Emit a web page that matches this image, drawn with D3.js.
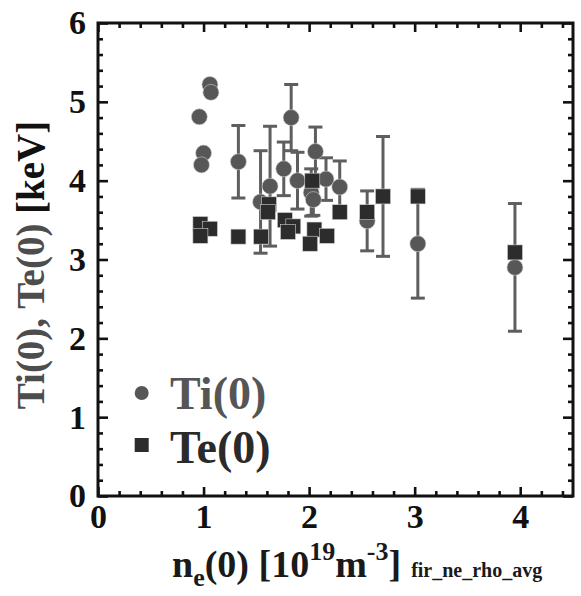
<!DOCTYPE html>
<html>
<head>
<meta charset="utf-8">
<script src="https://cdn.jsdelivr.net/npm/d3@7"></script>
<style>
body { margin: 0; background: #fff; }
text { font-family: "Liberation Serif", "Times New Roman", serif; font-weight: bold; }
</style>
</head>
<body>
<div id="visualization"></div>
<script>
// Ti(0) points: density, value, error (0 = no bar)
const tiNe  = [1.06, 1.07, 0.96, 1.00, 0.98, 1.33, 1.54, 1.63, 1.76, 1.83, 1.89, 2.02, 2.04, 2.06, 2.16, 2.29, 2.55, 3.03, 3.95];
const tiVal = [5.22, 5.12, 4.81, 4.35, 4.20, 4.24, 3.73, 3.93, 4.15, 4.80, 4.00, 3.85, 3.76, 4.37, 4.02, 3.92, 3.49, 3.20, 2.90];
const tiErr = [0,    0,    0,    0,    0,    0.46, 0.65, 0.76, 0.34, 0.42, 0.36, 0.30, 0.20, 0.31, 0.27, 0.33, 0.38, 0.69, 0.81];

// Te(0) points
const teNe  = [0.97, 1.06, 0.97, 1.33, 1.545, 1.62, 1.61, 1.77, 1.85, 1.80, 2.03, 2.05, 2.17, 2.01, 2.29, 2.55, 2.70, 3.03, 3.95];
const teVal = [3.45, 3.39, 3.30, 3.29, 3.29,  3.70, 3.60, 3.50, 3.42, 3.35, 4.00, 3.38, 3.30, 3.20, 3.60, 3.60, 3.80, 3.80, 3.09];
const teErr = [0,    0,    0,    0,    0,     0,    0,    0,    0,    0,    0,    0,    0,    0,    0,    0,    0.76, 0,    0];

const xTicks = [0, 1, 2, 3, 4];
const yTicks = [0, 1, 2, 3, 4, 5, 6];
const legendLabels = ["Ti(0)", "Te(0)"];

const margin = { top: 23, right: 8, bottom: 100, left: 98 };
const width = 581 - margin.left - margin.right;
const height = 596 - margin.top - margin.bottom;

const svg = d3.select("#visualization")
    .append("svg")
    .attr("width", width + margin.left + margin.right)
    .attr("height", height + margin.top + margin.bottom)
    .append("g")
    .attr("transform", `translate(${margin.left},${margin.top})`);

const x = d3.scaleLinear().domain([0, 4.5]).range([0, width]);
const y = d3.scaleLinear().domain([0, 6]).range([height, 0]);

const xMinor = d3.range(0.2, 4.5, 0.2).filter(v => Math.abs(v - Math.round(v)) > 0.01);
const yMinor = d3.range(0.2, 6, 0.2).filter(v => Math.abs(v - Math.round(v)) > 0.01);

function styleAxis(g) {
    g.select(".domain").remove();
    g.selectAll(".tick line").attr("stroke", "#111").attr("stroke-width", 2.6);
    g.selectAll(".tick text")
        .attr("fill", "#111")
        .style("font-size", "34px");
}

// major ticks with labels
svg.append("g").attr("transform", `translate(0,${height})`)
    .call(d3.axisBottom(x).tickValues(xTicks).tickSizeInner(-9).tickSizeOuter(0).tickPadding(8).tickFormat(d3.format("d")))
    .call(styleAxis);
svg.append("g")
    .call(d3.axisLeft(y).tickValues(yTicks).tickSizeInner(-10).tickSizeOuter(0).tickPadding(12).tickFormat(d3.format("d")))
    .call(styleAxis);

// mirrored ticks on top and right
svg.append("g")
    .call(d3.axisTop(x).tickValues(xTicks).tickSizeInner(-9).tickSizeOuter(0).tickFormat(""))
    .call(styleAxis);
svg.append("g").attr("transform", `translate(${width},0)`)
    .call(d3.axisRight(y).tickValues(yTicks).tickSizeInner(-10).tickSizeOuter(0).tickFormat(""))
    .call(styleAxis);

// minor ticks
svg.append("g").attr("transform", `translate(0,${height})`)
    .call(d3.axisBottom(x).tickValues(xMinor).tickSizeInner(-5).tickSizeOuter(0).tickFormat(""))
    .call(styleAxis);
svg.append("g")
    .call(d3.axisTop(x).tickValues(xMinor).tickSizeInner(-5).tickSizeOuter(0).tickFormat(""))
    .call(styleAxis);
svg.append("g")
    .call(d3.axisLeft(y).tickValues(yMinor).tickSizeInner(-5).tickSizeOuter(0).tickFormat(""))
    .call(styleAxis);
svg.append("g").attr("transform", `translate(${width},0)`)
    .call(d3.axisRight(y).tickValues(yMinor).tickSizeInner(-5).tickSizeOuter(0).tickFormat(""))
    .call(styleAxis);

// frame
svg.append("rect")
    .attr("width", width)
    .attr("height", height)
    .attr("fill", "none")
    .attr("stroke", "#111")
    .attr("stroke-width", 3);

const tiData = tiNe.map((d, i) => ({ ne: d, val: tiVal[i], err: tiErr[i] }));
const teData = teNe.map((d, i) => ({ ne: d, val: teVal[i], err: teErr[i] }));
const barColor = "#5e5e5e";
const capHalf = 7;

// error bars
const bars = svg.selectAll(".err")
    .data(tiData.concat(teData).filter(d => d.err > 0))
    .enter().append("g").attr("class", "err");
bars.append("line")
    .attr("x1", d => x(d.ne)).attr("x2", d => x(d.ne))
    .attr("y1", d => y(d.val + d.err)).attr("y2", d => y(d.val - d.err))
    .attr("stroke", barColor).attr("stroke-width", 3);
bars.append("line")
    .attr("x1", d => x(d.ne) - capHalf).attr("x2", d => x(d.ne) + capHalf)
    .attr("y1", d => y(d.val + d.err)).attr("y2", d => y(d.val + d.err))
    .attr("stroke", barColor).attr("stroke-width", 3);
bars.append("line")
    .attr("x1", d => x(d.ne) - capHalf).attr("x2", d => x(d.ne) + capHalf)
    .attr("y1", d => y(d.val - d.err)).attr("y2", d => y(d.val - d.err))
    .attr("stroke", barColor).attr("stroke-width", 3);

// Ti circles
svg.selectAll(".ti").data(tiData).enter()
    .append("circle")
    .attr("class", "ti")
    .attr("cx", d => x(d.ne))
    .attr("cy", d => y(d.val))
    .attr("r", 8)
    .attr("fill", "#575757")
    .attr("stroke", "#cfcfcf")
    .attr("stroke-width", 0.6);

// Te squares
svg.selectAll(".te").data(teData).enter()
    .append("rect")
    .attr("class", "te")
    .attr("x", d => x(d.ne) - 7.5)
    .attr("y", d => y(d.val) - 7.5)
    .attr("width", 15)
    .attr("height", 15)
    .attr("fill", "#2c2c2c")
    .attr("stroke", "#cfcfcf")
    .attr("stroke-width", 0.6);

// legend
const legendX = 141.7 - margin.left;
svg.append("circle")
    .attr("cx", legendX).attr("cy", 393 - margin.top)
    .attr("r", 7).attr("fill", "#575757");
svg.append("rect")
    .attr("x", legendX - 7).attr("y", 438 - margin.top)
    .attr("width", 14).attr("height", 14).attr("fill", "#2c2c2c");
svg.append("text")
    .attr("x", 170 - margin.left).attr("y", 409 - margin.top)
    .style("font-size", "46px").attr("fill", "#555")
    .text(legendLabels[0]);
svg.append("text")
    .attr("x", 170 - margin.left).attr("y", 463 - margin.top)
    .style("font-size", "46px").attr("fill", "#2a2a2a")
    .text(legendLabels[1]);

// y-axis label
const yLabel = svg.append("text")
    .attr("transform", "rotate(-90)")
    .attr("x", -(265 - margin.top))
    .attr("y", 44 - margin.left)
    .attr("text-anchor", "middle")
    .style("font-size", "39px");
yLabel.append("tspan").attr("fill", "#4d4d4d").text("Ti(0), Te(0) ");
yLabel.append("tspan").attr("fill", "#111").text("[keV]");

// x-axis label
const xLabel = svg.append("text")
    .attr("x", 172 - margin.left)
    .attr("y", 577 - margin.top)
    .attr("fill", "#1a1a1a")
    .style("font-size", "38px");
xLabel.append("tspan").text("n");
xLabel.append("tspan").attr("dy", 9).style("font-size", "26px").text("e");
xLabel.append("tspan").attr("dy", -9).text("(0) [10");
xLabel.append("tspan").attr("dy", -17).style("font-size", "26px").text("19");
xLabel.append("tspan").attr("dy", 17).text("m");
xLabel.append("tspan").attr("dy", -17).style("font-size", "26px").text("-3");
xLabel.append("tspan").attr("dy", 17).text("]");
xLabel.append("tspan").attr("dx", 10).style("font-size", "20px").text("fir_ne_rho_avg");
</script>
</body>
</html>
